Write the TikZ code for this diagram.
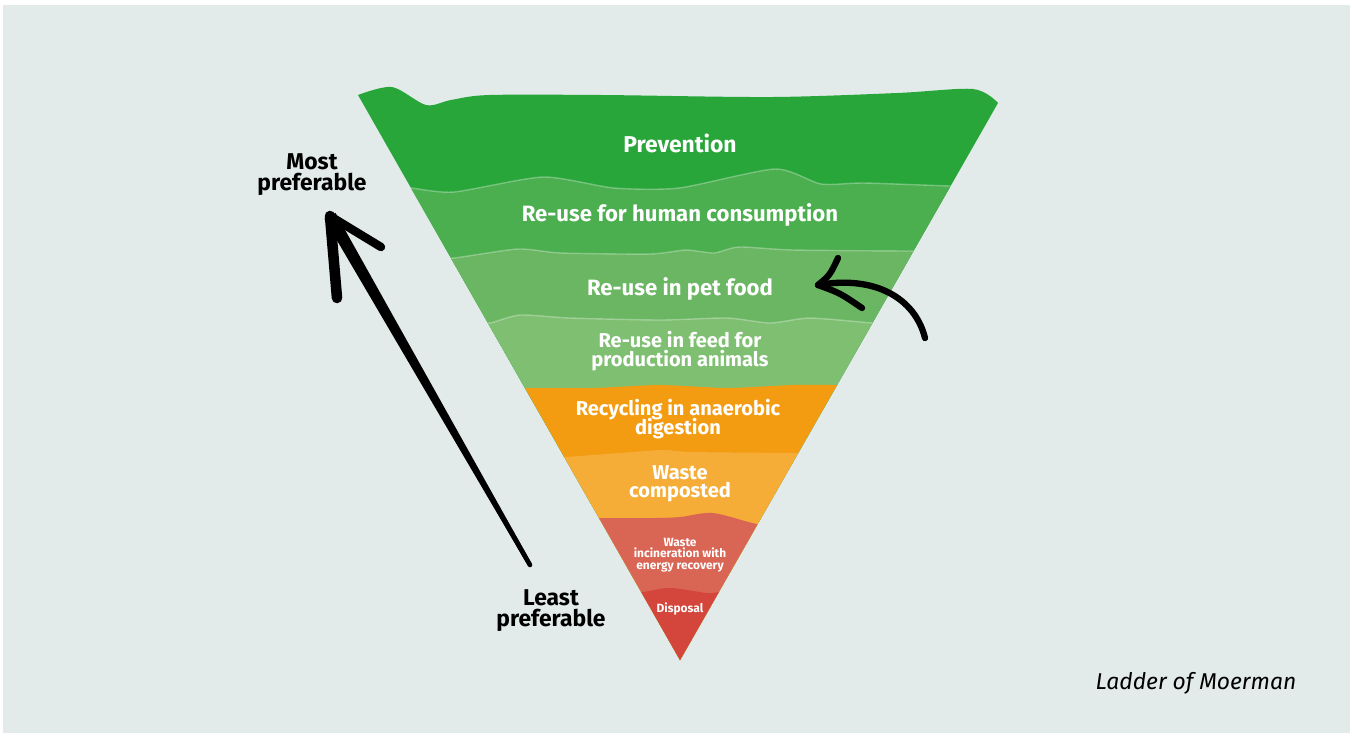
\documentclass[tikz,border=0pt]{standalone}
\usepackage{fontspec}
\usetikzlibrary{calc}
\setmainfont{Fira Sans}
\definecolor{bgGrey}{HTML}{E2EBE9}
\definecolor{prevention}{HTML}{28A63A}
\definecolor{humanUse}{HTML}{4BAE4F}
\definecolor{petUse}{HTML}{6AB662}
\definecolor{feedUse}{HTML}{7FBF72}
\definecolor{digestion}{HTML}{F39C12}
\definecolor{compost}{HTML}{F5AD38}
\definecolor{incineration}{HTML}{D96555}
\definecolor{disposal}{HTML}{D4463B}
\begin{document}
\begin{tikzpicture}[x=0.01cm, y=-0.01cm]
    \tikzset{
        band label/.style={text=white, align=center, font=\bfseries\fontsize{6.3}{5.8}\selectfont},
        two line label/.style={band label, font={\bfseries\fontsize{5.7}{5.2}\selectfont\lineskiplimit-10pt\relax}},
        small label/.style={text=white, align=center, font={\bfseries\fontsize{3.4}{3.3}\selectfont\lineskiplimit-10pt\relax}},
        side label/.style={text=black, align=center, font=\bfseries\fontsize{6.5}{6}\selectfont},
        handline/.style={line width=2.4pt, line cap=round, line join=round},
        seam/.style={white, opacity=0.3, line width=0.4pt}
    }

    % Canvas
    \useasboundingbox (0,0) rectangle (1352,735);
    \fill[white] (0,0) rectangle (1352,735);
    \fill[bgGrey] (3,5) rectangle (1350,733);

    % Funnel bands, each one laid over the one above it
    \begin{scope}
        \clip plot[smooth] coordinates {(358,95) (392,87) (426,105) (451,100) (489,95) (603,95) (771,97) (897,93) (973,89) (998,103)} -- (680,660) -- cycle;
        \fill[prevention] (300,60) rectangle (1050,700);
        \fill[humanUse] plot[smooth, tension=0.4] coordinates {(390,187) (411,188) (454,192) (543,177) (614,188) (679,188) (775,169) (821,184) (864,183) (950,186) (975,186)} -- (1050,700) -- (300,700) -- cycle;
        \fill[petUse] plot[smooth, tension=0.4] coordinates {(430,258) (454,258) (518,249) (561,253) (650,254) (686,250) (714,253) (739,247) (793,250) (907,251) (935,251)} -- (1050,700) -- (300,700) -- cycle;
        \fill[feedUse] plot[smooth, tension=0.4] coordinates {(470,323) (490,323) (520,315) (570,318) (660,320) (727,318) (770,323) (810,318) (873,323) (895,323)} -- (1050,700) -- (300,700) -- cycle;
        \fill[digestion] plot[smooth, tension=0.4] coordinates {(505,388) (527,388) (593,388) (660,385) (727,388) (793,385) (837,385) (860,385)} -- (1050,700) -- (300,700) -- cycle;
        \fill[compost] plot[smooth] coordinates {(545,457) (565,457) (620,453) (663,450) (693,452) (797,453) (820,453)} -- (1050,700) -- (300,700) -- cycle;
        \fill[incineration] plot[smooth] coordinates {(580,518) (600,518) (653,518) (680,517) (713,513) (757,524) (780,524)} -- (1050,700) -- (300,700) -- cycle;
        \fill[disposal] plot[smooth] coordinates {(620,592) (642,592) (670,588) (707,593) (720,592) (740,592)} -- (1050,700) -- (300,700) -- cycle;
        % light seams between the green bands
        \draw[seam] plot[smooth, tension=0.4] coordinates {(390,187) (411,188) (454,192) (543,177) (614,188) (679,188) (775,169) (821,184) (864,183) (950,186) (975,186)};
        \draw[seam] plot[smooth, tension=0.4] coordinates {(430,258) (454,258) (518,249) (561,253) (650,254) (686,250) (714,253) (739,247) (793,250) (907,251) (935,251)};
        \draw[seam] plot[smooth, tension=0.4] coordinates {(470,323) (490,323) (520,315) (570,318) (660,320) (727,318) (770,323) (810,318) (873,323) (895,323)};
    \end{scope}

    % Band labels
    \node[band label, font=\bfseries\fontsize{6.5}{6}\selectfont] (prevent) at (680,143) {Prevention};
    \node[band label] (human) at (680,215) {Re-use for human consumption};
    \node[band label] (pet) at (680,289) {Re-use in pet food};
    \node[two line label] (feed) at (680,351) {Re-use in feed for\\production animals};
    \node[two line label] (anaerobic) at (678,419) {Recycling in anaerobic\\digestion};
    \node[two line label] (composted) at (680,484) {Waste\\composted};
    \node[small label] (burn) at (680,555) {Waste\\incineration with\\energy recovery};
    \node[small label] (dispose) at (680,609) {Disposal};

    % Side labels
    \node[side label] (most) at (312,175) {Most\\preferable};
    \node[side label] (least) at (551,611) {Least\\preferable};
    \node[font=\itshape\fontsize{6.5}{7}\selectfont] (title) at (1196,683) {Ladder of Moerman};

    % Hand drawn arrows
    \coordinate (lowEnd) at (530,565);
    \coordinate (highEnd) at (330,216);
    \coordinate (barbLeft) at (337,298);
    \coordinate (barbRight) at (381,247);
    \draw[handline, line width=1.3pt] (lowEnd) -- (highEnd);
    \fill ($(lowEnd)!0.6pt!90:(highEnd)$) -- ($(highEnd)!1.8pt!-90:(lowEnd)$)
        -- ($(highEnd)!1.8pt!90:(lowEnd)$) -- ($(lowEnd)!0.6pt!-90:(highEnd)$) -- cycle;
    \draw[handline, line width=3pt] (highEnd) -- (barbLeft);
    \draw[handline] (highEnd) -- (barbRight);

    \coordinate (petTail) at (925,338);
    \coordinate (petTip) at (818,285);
    \draw[handline, line width=1.8pt] (petTail) .. controls (915,298) and (875,275) .. (petTip);
    \draw[handline, line width=1.8pt] (petTip) .. controls (830,275) .. (838,258);
    \draw[handline, line width=1.8pt] (petTip) .. controls (840,293) .. (862,308);
\end{tikzpicture}
\end{document}
